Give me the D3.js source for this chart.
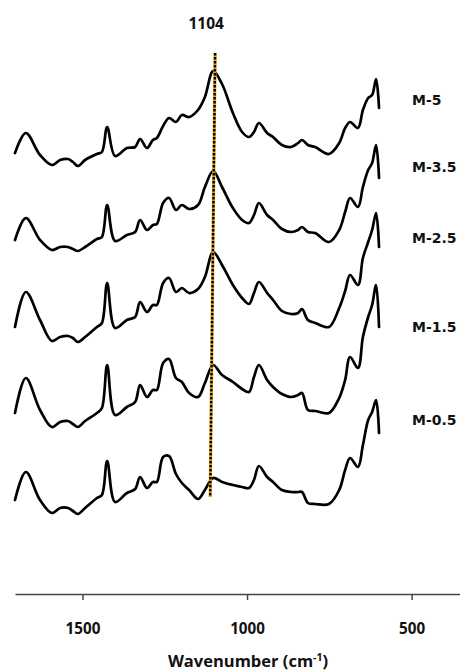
<!DOCTYPE html>
<html><head><meta charset="utf-8">
<script src="https://cdn.jsdelivr.net/npm/d3@7"></script>
<style>
html,body{margin:0;padding:0;background:#fff;}
svg{display:block;}
text{font-weight:700;fill:#111;}
</style></head>
<body>
<svg id="chart" width="460" height="671"></svg>
<script>
// Wavenumbers (cm-1) at which the spectra were read
const wavenumbers = [1705,1672,1629,1593,1568,1544,1529,1514,1492,1456,1441,1425,1401,1365,1340,1325,1304,1286,1274,1255,1237,1216,1198,1176,1149,1128,1103,1076,1043,1015,994,979,964,939,921,894,866,845,833,815,793,751,720,702,687,663,648,632,620,608,599];

// Stacked (offset) intensities, arbitrary units
const seriesNames = ["M-5","M-3.5","M-2.5","M-1.5","M-0.5"];
const m5  = [441,461,439,429,434,435,432,428,434,440,442,467,438,446,447,455,446,454,456,468,476,472,479,477,484,497,523,510,481,462,457,462,471,461,457,449,447,451,454,449,447,440,451,466,472,466,484,496,499,515,486];
const m35 = [354,376,354,344,347,347,345,343,347,355,357,389,353,359,362,374,364,369,370,391,396,384,389,385,389,407,423,407,386,374,371,379,391,379,374,365,362,364,367,362,361,352,364,382,396,387,407,424,431,449,416];
const m25 = [267,302,274,253,257,258,256,252,257,267,271,311,266,274,277,292,282,289,289,311,316,302,306,301,305,317,342,329,309,296,290,301,312,301,294,283,280,281,285,274,271,267,286,303,319,309,336,352,364,381,347];
const m15 = [181,216,184,167,172,173,170,167,173,181,186,229,179,187,192,209,197,204,204,231,235,216,212,201,197,211,229,219,212,205,202,217,229,214,207,200,197,199,201,184,183,181,196,214,237,226,257,277,289,309,267];
const m05 = [94,122,94,81,86,86,83,80,86,96,99,133,92,101,105,117,106,112,112,137,138,120,111,104,95,104,116,112,109,107,106,114,128,117,112,104,102,102,102,91,90,90,104,124,136,127,149,174,182,194,161];
const seriesValues = [m5, m35, m25, m15, m05];

// Right-hand labels: value at which each label's baseline sits
const labelLevels = [489, 422, 351, 262, 169];

// Axis ticks
const tickValues = [1500, 1000, 500];
const axisTitle = "Wavenumber (cm";

// Marker line annotation
const markerLabel = "1104";
const markerWn = [1097, 1112];
const markerLevel = [541, 97];

const svg = d3.select("#chart");
const x = d3.scaleLinear().domain([1705, 353]).range([15, 460]);
const y = d3.scaleLinear().domain([0, 594]).range([594, 0]);

const OPEN = "'Open Sans', sans-serif";

// Axis
const axis = svg.append("g")
  .attr("transform", `translate(0,${y(0)})`)
  .call(d3.axisBottom(x).tickValues(tickValues).tickSize(6).tickSizeOuter(0).tickPadding(23).tickFormat(d3.format("d")));
axis.select(".domain").attr("stroke", "#444").attr("stroke-width", 1.5);
axis.selectAll(".tick line").attr("stroke", "#444").attr("stroke-width", 1.5);
axis.selectAll(".tick text")
  .style("font-family", OPEN).style("font-size", "15.2px").style("font-weight", 700).style("fill", "#111");

const title = svg.append("text")
  .attr("x", 248).attr("y", 667)
  .attr("text-anchor", "middle")
  .style("font-family", OPEN)
  .style("font-size", "16.5px");
title.append("tspan").text(axisTitle);
title.append("tspan").style("font-size", "10.5px").attr("dy", -6.5).text("-1");
title.append("tspan").attr("dy", 6.5).text(")");

// Spectra
const line = d3.line()
  .x((d, i) => x(wavenumbers[i]))
  .y(d => y(d))
  .curve(d3.curveCatmullRom.alpha(0.5));

svg.append("g").selectAll("path")
  .data(seriesValues)
  .join("path")
  .attr("d", d => line(d))
  .attr("fill", "none")
  .attr("stroke", "#000")
  .attr("stroke-width", 2.7)
  .attr("stroke-linejoin", "round")
  .attr("stroke-linecap", "round");

// Marker line (gold with black dots)
svg.append("line")
  .attr("x1", x(markerWn[0])).attr("y1", y(markerLevel[0]))
  .attr("x2", x(markerWn[1])).attr("y2", y(markerLevel[1]))
  .attr("stroke", "#E3A21A").attr("stroke-width", 3.2);
svg.append("line")
  .attr("x1", x(markerWn[0])).attr("y1", y(markerLevel[0]))
  .attr("x2", x(markerWn[1])).attr("y2", y(markerLevel[1]))
  .attr("stroke", "#000").attr("stroke-width", 2.4)
  .attr("stroke-dasharray", "2.4,1.6");

svg.append("text")
  .attr("x", x(1124)).attr("y", 29)
  .attr("text-anchor", "middle")
  .style("font-family", OPEN)
  .style("font-size", "15.5px")
  .text(markerLabel);

// Series labels
svg.append("g").selectAll("text")
  .data(seriesNames)
  .join("text")
  .attr("x", 412)
  .attr("y", (d, i) => y(labelLevels[i]))
  .style("font-family", "'DejaVu Sans', sans-serif")
  .style("font-size", "14px")
  .text(d => d);
</script>
</body></html>
